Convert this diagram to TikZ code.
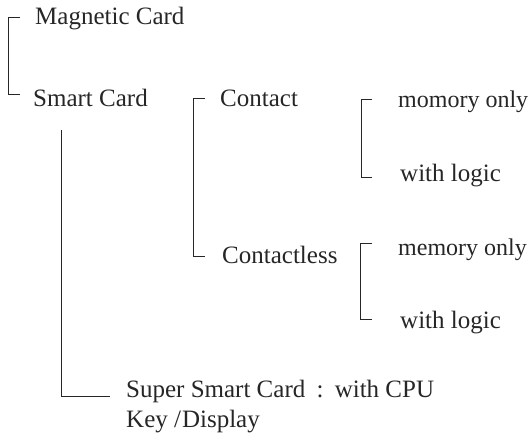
\documentclass[tikz,border=0pt]{standalone}
\usepackage{fontspec}
\setmainfont{Liberation Serif}
\begin{document}
\begin{tikzpicture}[x=1pt,y=-1pt,
  lbl/.style={anchor=base west,inner sep=0pt,text=black!85,font=\fontsize{25}{29}\selectfont},
  lblsm/.style={lbl,font=\fontsize{24}{28}\selectfont},
  brk/.style={draw=black!85,line width=0.9pt}]
\useasboundingbox (0,0) rectangle (531,441);
% labels
\node[lbl] (mag) at (35,25) {Magnetic Card};
\node[lbl] (smart) at (33,107) {Smart Card};
\node[lbl] (contact) at (220,107) {Contact};
\node[lblsm] (mem1) at (398,108) {momory only};
\node[lbl] (logic1) at (400,182) {with logic};
\node[lbl] (contactless) at (222,264) {Contactless};
\node[lblsm] (mem2) at (398,256) {memory only};
\node[lbl] (logic2) at (400,328) {with logic};
\node[lbl] (super) at (126,397) {Super Smart Card\hspace{0.45em}:\hspace{0.45em}with CPU};
\node[lbl] (key) at (126,427) {Key /\kern1pt Display};
% bracket corner points
\coordinate (b1t) at (20,17);  \coordinate (b1b) at (20,94);
\coordinate (b2t) at (205,98); \coordinate (b2b) at (205,256);
\coordinate (b3t) at (372,99); \coordinate (b3b) at (372,177);
\coordinate (b4t) at (372,243); \coordinate (b4b) at (372,319);
\coordinate (ls) at (61,130);  \coordinate (le) at (110,396);
% brackets
\draw[brk] (b1t) -- ++(-12,0) |- (b1b);
\draw[brk] (b2t) -- ++(-12,0) |- (b2b);
\draw[brk] (b3t) -- ++(-11,0) |- (b3b);
\draw[brk] (b4t) -- ++(-12,0) |- (b4b);
\draw[brk] (ls) |- (le);
\end{tikzpicture}
\end{document}
